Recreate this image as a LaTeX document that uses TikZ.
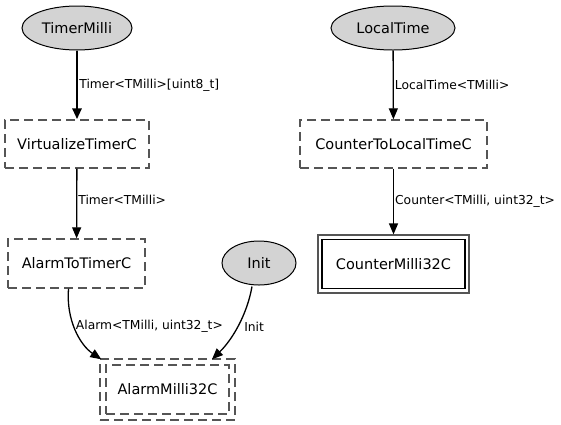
\documentclass[tikz,border=0pt]{standalone}
\usepackage{fontspec}
\setmainfont{DejaVu Sans}
\usetikzlibrary{shapes.geometric,arrows.meta}
\definecolor{ifill}{HTML}{D3D3D3}
\definecolor{dgray}{HTML}{555555}
\tikzset{
  iface/.style={ellipse, draw=black, line width=1pt, fill=ifill, inner sep=0pt, font=\fontsize{14.5}{16}\selectfont},
  comp/.style={rectangle, draw=dgray, line width=1.4pt, dash pattern=on 9pt off 5pt, inner sep=0pt, font=\fontsize{14.5}{16}\selectfont},
  conf/.style={rectangle, draw=black, line width=1.2pt, inner sep=0pt, font=\fontsize{14.5}{16}\selectfont},
  wire/.style={draw=black, line width=1.3pt, -{Triangle[length=11pt,width=9pt]}},
  lbl/.style={anchor=west, inner sep=0pt, font=\fontsize{12.3}{14}\selectfont},
}
\begin{document}
\begin{tikzpicture}[x=1pt,y=-1pt]
\useasboundingbox (0,0) rectangle (561,424);
% interfaces
\node[iface, minimum width=110pt, minimum height=44pt] (tm) at (77,28) {TimerMilli};
\node[iface, minimum width=124pt, minimum height=44pt] (lt) at (393,28) {LocalTime};
\node[iface, minimum width=74pt, minimum height=44pt] (init) at (259,263) {Init};
% components
\node[comp, minimum width=144pt, minimum height=48pt] (vt) at (77,144) {VirtualizeTimerC};
\node[comp, minimum width=187pt, minimum height=48pt] (cl) at (393.5,144) {CounterToLocalTimeC};
\node[comp, minimum width=137pt, minimum height=49pt] (at) at (76.5,263.5) {AlarmToTimerC};
% configurations
\node[conf, draw=dgray, minimum width=151pt, minimum height=58pt] (cm) at (393.5,264) {};
\node[conf, minimum width=143pt, minimum height=49pt] (cmi) at (393.5,264) {CounterMilli32C};
\node[comp, minimum width=135pt, minimum height=61pt] (am) at (167.5,389.5) {};
\node[comp, minimum width=123pt, minimum height=49pt] (ami) at (167.5,389.5) {AlarmMilli32C};
% connectors
\draw[wire, line width=2.8pt] (tm) -- node[lbl, xshift=1pt] {Timer<TMilli>[uint8\_t]} (vt);
\draw[wire] (vt) -- node[lbl, pos=0.45, xshift=1pt] {Timer<TMilli>} (at);
\draw[wire] (lt) -- node[lbl, xshift=1pt] {LocalTime<TMilli>} (cl);
\draw[wire] (cl) -- node[lbl, xshift=1pt] {Counter<TMilli, uint32\_t>} (cm);
\draw[wire] ([xshift=-8pt]at.south) .. controls (66,320) and (80,345) .. ([xshift=2pt,yshift=-1pt]am.north west)
  node[lbl, pos=0.45, xshift=1pt] {Alarm<TMilli, uint32\_t>};
\draw[wire] (init.south) ++(-7pt,-1pt) .. controls (247,315) and (232,340) .. ([xshift=44.5pt,yshift=-1pt]am.north)
  node[lbl, pos=0.5, xshift=6pt] {Init};
\end{tikzpicture}
\end{document}
